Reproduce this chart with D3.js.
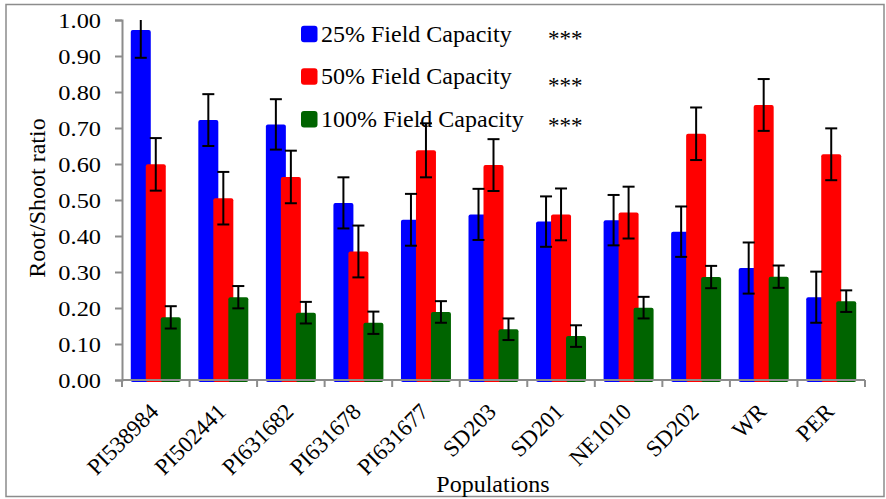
<!DOCTYPE html>
<html><head><meta charset="utf-8">
<script src="https://cdn.jsdelivr.net/npm/d3@7"></script>
<style>
html,body{margin:0;padding:0;background:#fff;}
svg{display:block;font-family:"Liberation Serif","Times New Roman",serif;}
</style></head>
<body><svg id="chart" width="886" height="499"></svg>
<script>
const categories = ["PI538984","PI502441","PI631682","PI631678","PI631677","SD203","SD201","NE1010","SD202","WR","PER"];
const seriesNames = ["25% Field Capacity","50% Field Capacity","100% Field Capacity"];
const significance = ["***","***","***"];
const fc25 = [0.972,0.722,0.710,0.492,0.445,0.460,0.440,0.444,0.412,0.311,0.230];
const fc25Err = [0.077,0.072,0.070,0.071,0.072,0.071,0.070,0.070,0.070,0.071,0.071];
const fc50 = [0.599,0.505,0.564,0.357,0.638,0.597,0.460,0.465,0.684,0.764,0.627];
const fc50Err = [0.073,0.073,0.073,0.072,0.075,0.072,0.072,0.072,0.073,0.072,0.072];
const fc100 = [0.174,0.230,0.187,0.159,0.189,0.141,0.122,0.201,0.286,0.287,0.219];
const fc100Err = [0.031,0.031,0.030,0.031,0.030,0.030,0.030,0.030,0.031,0.031,0.030];
const yTicks = [0,0.1,0.2,0.3,0.4,0.5,0.6,0.7,0.8,0.9,1.0];
const colors = ["#0000ff","#ff0000","#006400"];

const series = [fc25, fc50, fc100];
const errs = [fc25Err, fc50Err, fc100Err];

const svg = d3.select("#chart");
const mLeft = 122, mRight = 865, mTop = 20, mBottom = 380;

svg.append("rect").attr("x",6).attr("y",4.5).attr("width",878).attr("height",492)
  .attr("fill","none").attr("stroke","#8c8c8c").attr("stroke-width",1.5);

const x = d3.scaleBand().domain(categories).range([mLeft,mRight]).padding(0);
const y = d3.scaleLinear().domain([0,1]).range([mBottom,mTop]);

svg.append("defs").append("clipPath").attr("id","plotclip")
  .append("rect").attr("x",mLeft).attr("y",mTop).attr("width",mRight-mLeft).attr("height",mBottom-mTop+10);

const bw = x.bandwidth();
const groupW = bw*0.74;
const barW = groupW/2.5;
const step = barW*0.75;
const gx = c => x(c) + (bw-groupW)/2;

// bars
series.forEach((vals,s)=>{
  svg.append("g").selectAll("rect").data(vals).join("rect")
    .attr("x",(d,i)=>gx(categories[i]) + s*step)
    .attr("y",d=>y(d))
    .attr("width",barW)
    .attr("height",d=>y(0)-y(d)+2)
    .attr("rx",2)
    .attr("fill",colors[s]);
});

// axes
const yAxis = svg.append("g").attr("transform",`translate(${mLeft},0)`)
  .call(d3.axisLeft(y).tickValues(yTicks).tickSize(7).tickFormat(d3.format(".2f")));
yAxis.select(".domain").attr("stroke","#8c8c8c").attr("stroke-width",2);
yAxis.selectAll(".tick line").attr("stroke","#8c8c8c").attr("stroke-width",2);
yAxis.selectAll(".tick text").attr("x",null).attr("dy",null)
  .attr("transform","translate(-21,7) scale(1.16,1)")
  .attr("font-size",21).attr("fill","#000").attr("font-family","Liberation Serif, Times New Roman, serif");

const xAxis = svg.append("g").attr("transform",`translate(0,${mBottom})`);
xAxis.append("line").attr("x1",mLeft).attr("x2",mRight).attr("y1",0).attr("y2",0)
  .attr("stroke","#8c8c8c").attr("stroke-width",2);
const bounds = categories.map(c=>x(c)).concat([mRight]);
xAxis.selectAll("line.tk").data(bounds).join("line").attr("class","tk")
  .attr("x1",d=>d).attr("x2",d=>d).attr("y1",0).attr("y2",7)
  .attr("stroke","#8c8c8c").attr("stroke-width",2);
xAxis.selectAll("text").data(categories).join("text")
  .attr("transform",d=>`translate(${x(d)+bw/2+4},33) rotate(-45)`)
  .attr("text-anchor","end").attr("font-size",23).attr("fill","#000")
  .text(d=>d);

// error bars
const eg = svg.append("g").attr("clip-path","url(#plotclip)");
series.forEach((vals,s)=>{
  vals.forEach((v,i)=>{
    const cx = gx(categories[i]) + s*step + barW/2;
    const e = errs[s][i];
    const y1 = y(v+e), y2 = y(v-e);
    eg.append("line").attr("x1",cx).attr("x2",cx).attr("y1",y1).attr("y2",y2)
      .attr("stroke","#000").attr("stroke-width",2);
    [y1,y2].forEach(yy=>eg.append("line").attr("x1",cx-6).attr("x2",cx+6)
      .attr("y1",yy).attr("y2",yy).attr("stroke","#000").attr("stroke-width",2));
  });
});

// axis titles
svg.append("text").attr("transform","translate(45,198) rotate(-90)")
  .attr("text-anchor","middle").attr("font-size",24).text("Root/Shoot ratio");
svg.append("text").attr("x",493).attr("y",492)
  .attr("text-anchor","middle").attr("font-size",24).text("Populations");

// legend
const lg = svg.append("g");
const rowY = [25.7, 68.3, 111];
const starDy = [0, 4.5, 2];
seriesNames.forEach((n,i)=>{
  lg.append("rect").attr("x",301).attr("y",rowY[i]).attr("width",16.5).attr("height",16.5)
    .attr("rx",3).attr("fill",colors[i]);
  lg.append("text").attr("x",321).attr("y",rowY[i]+16).attr("font-size",24).text(n);
  lg.append("text").attr("x",548).attr("y",rowY[i]+20+starDy[i]).attr("font-size",23).text(significance[i]);
});
</script></body></html>
